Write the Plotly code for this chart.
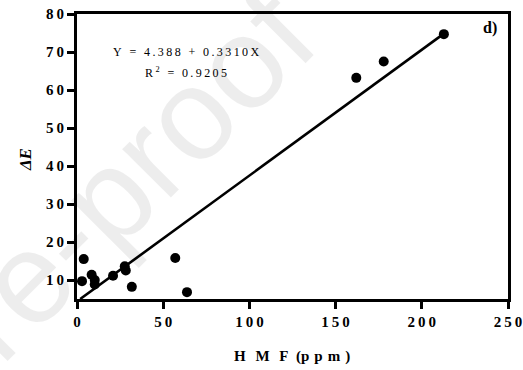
import numpy as np
import plotly.graph_objects as go

# HMF content (ppm) and colour difference for each sample
hmf = [3.9, 2.9, 8.5, 10.3, 10.3, 20.9, 27.7, 28.3, 31.8, 57.0, 63.8, 162.0, 177.9, 212.8]
delta_e = [15.5, 9.7, 11.4, 10.0, 8.8, 11.1, 13.6, 12.5, 8.2, 15.8, 6.8, 63.2, 67.5, 74.7]

# linear fit reported on the chart
intercept = 4.388
slope = 0.3310
r_squared = 0.9205

x_ticks = [0, 50, 100, 150, 200, 250]
y_ticks = [10, 20, 30, 40, 50, 60, 70, 80]
x_range = [0, 250]
y_range = [5, 80]

SERIF = "Liberation Serif, Times New Roman, serif"


def spread(text, gap="\u2009"):
    """Letter-spaced text, the way the chart's labels are set."""
    return gap.join(text)


fig = go.Figure()

# regression line, from the axis floor to the largest HMF value
x_fit = np.array([(y_range[0] - intercept) / slope, max(hmf)])
y_fit = intercept + slope * x_fit
fig.add_trace(go.Scatter(
    x=x_fit, y=y_fit, mode="lines",
    line=dict(color="black", width=2.6),
    hoverinfo="skip", showlegend=False,
))

fig.add_trace(go.Scatter(
    x=hmf, y=delta_e, mode="markers",
    marker=dict(color="black", size=10),
    cliponaxis=False, showlegend=False,
))

tick_font = dict(family=SERIF, size=15, color="black", weight="bold")
axis_common = dict(
    showline=True, linewidth=3, linecolor="black", mirror=True,
    ticks="outside", ticklen=7, tickwidth=3, tickcolor="black",
    showgrid=False, zeroline=False, tickfont=tick_font,
    ticklabeloverflow="allow", automargin=False,
)

fig.update_xaxes(
    range=x_range, tickvals=x_ticks,
    ticktext=[spread(str(v)) for v in x_ticks],
    **axis_common,
)
fig.update_yaxes(
    range=y_range, tickvals=y_ticks,
    ticktext=[spread(str(v)) for v in y_ticks],
    **axis_common,
)

annotations = [
    # faint diagonal watermark
    dict(text="Journal Pre-proof", x=-0.327, y=-0.246, xref="paper", yref="paper",
         showarrow=False, textangle=-45, xanchor="center", yanchor="middle",
         font=dict(family="Liberation Sans, Arial, sans-serif", size=130,
                   color="rgba(0,0,0,0.07)")),
    dict(text=spread(f"Y = {intercept:.3f} + {slope:.4f}X"),
         x=0.2518, y=0.866, xref="paper", yref="paper", showarrow=False,
         xanchor="center", yanchor="middle",
         font=dict(family=SERIF, size=12, color="black")),
    dict(text="R\u2009<sup>2</sup>\u2009" + spread(f" = {r_squared:.4f}"),
         x=0.253, y=0.796, xref="paper", yref="paper", showarrow=False,
         xanchor="center", yanchor="middle",
         font=dict(family=SERIF, size=12, color="black")),
    dict(text="d)", x=0.958, y=0.95, xref="paper", yref="paper", showarrow=False,
         xanchor="center", yanchor="middle",
         font=dict(family=SERIF, size=16, color="black", weight="bold")),
    dict(text="<b><i>\u0394E</i></b>", x=-0.118, y=0.488, xref="paper", yref="paper",
         showarrow=False, textangle=-90, xanchor="center", yanchor="middle",
         font=dict(family=SERIF, size=17, color="black")),
    dict(text=spread("H M F", "\u2009") + "\u2002(" + spread("ppm", "\u2004") + "\u2004)",
         x=0.4988, y=-0.2035, xref="paper", yref="paper", showarrow=False,
         xanchor="center", yanchor="middle",
         font=dict(family=SERIF, size=15, color="black", weight="bold")),
]

fig.update_layout(
    width=523, height=370,
    margin=dict(l=77, r=15, t=14, b=71),
    paper_bgcolor="white", plot_bgcolor="white",
    annotations=annotations,
    showlegend=False,
)

fig.write_html("out.html")
